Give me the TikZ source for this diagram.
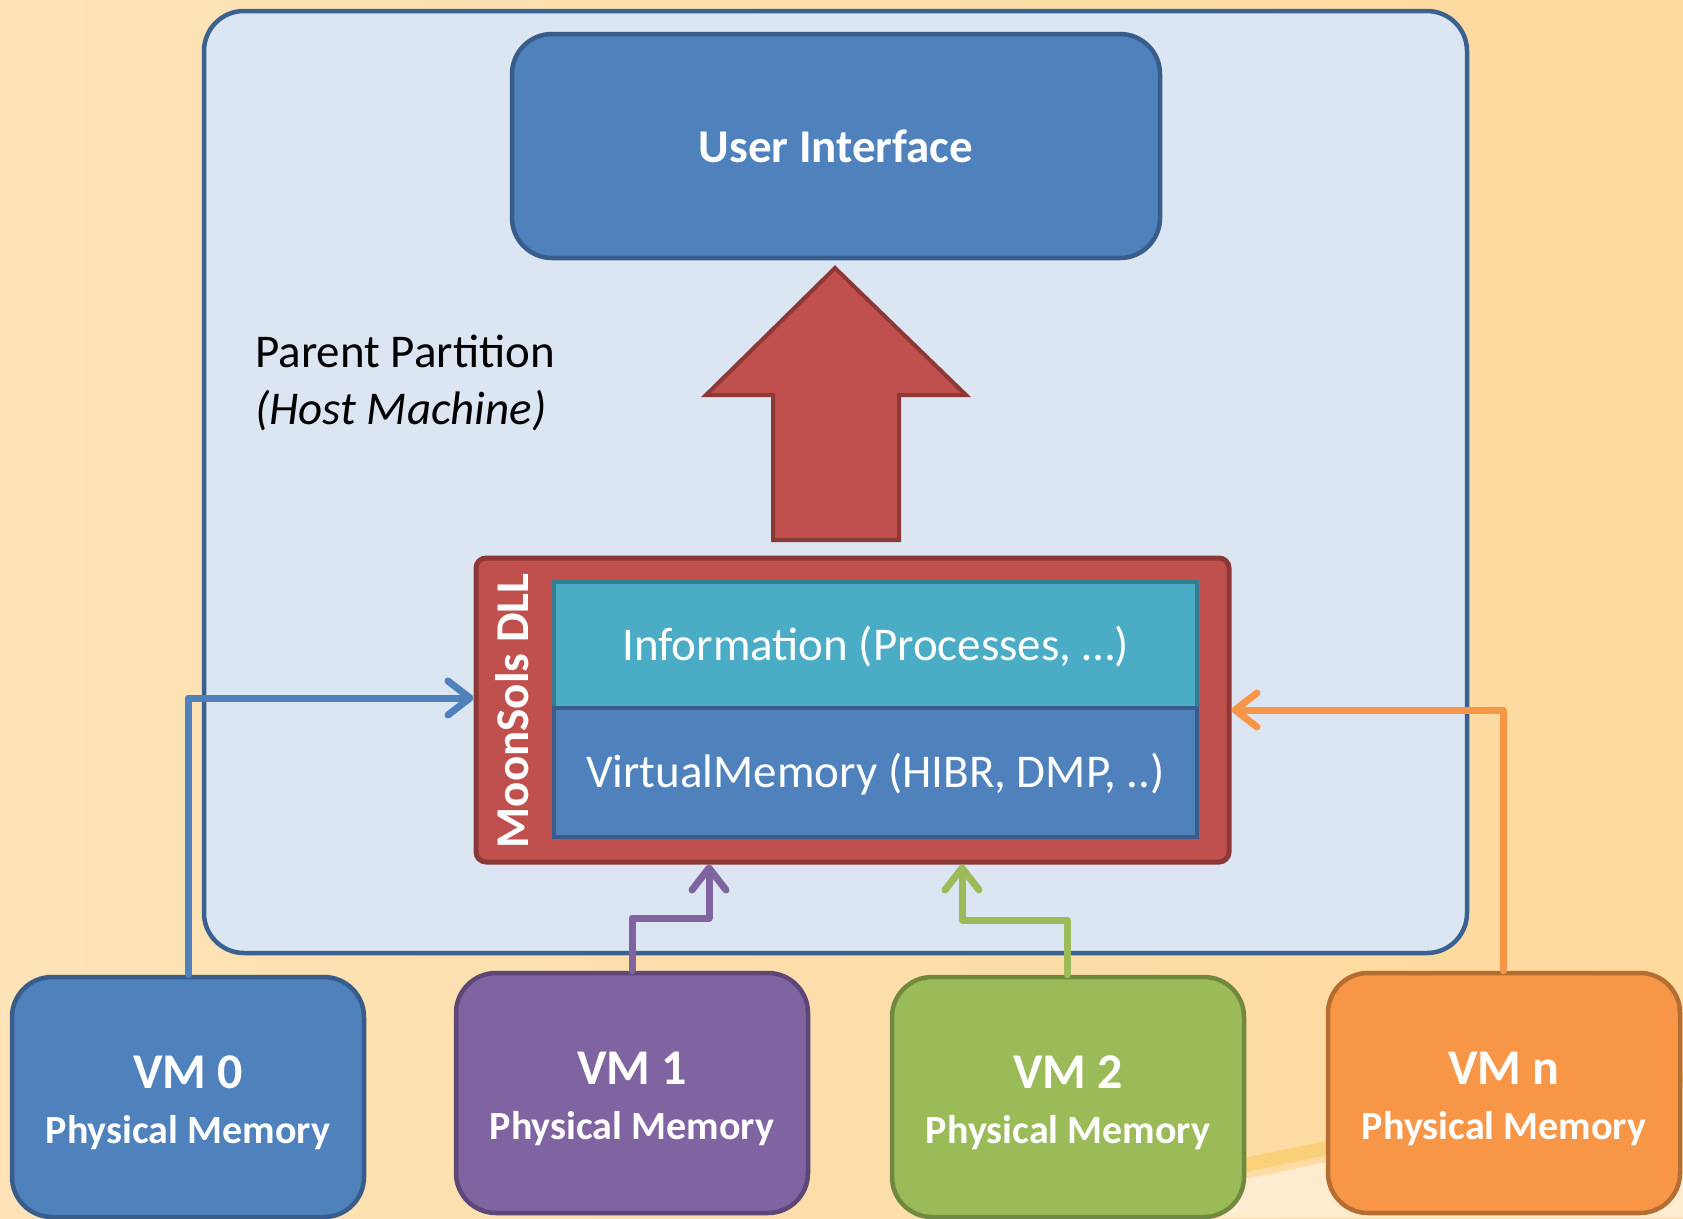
\documentclass[tikz,border=0pt]{standalone}
\usepackage{fontspec}
\setmainfont{Carlito}
\usetikzlibrary{arrows.meta}
\definecolor{bgA}{HTML}{FDE3B7}
\definecolor{bgB}{HTML}{FDD99C}
\definecolor{cream}{HTML}{FEEBD0}
\definecolor{streak}{HTML}{FBC85A}
\definecolor{contfill}{HTML}{DCE6F2}
\definecolor{contdraw}{HTML}{3A6191}
\definecolor{bluefill}{HTML}{4F81BD}
\definecolor{bluedraw}{HTML}{385D8A}
\definecolor{redfill}{HTML}{C0504D}
\definecolor{reddraw}{HTML}{8C3836}
\definecolor{aquafill}{HTML}{4BACC6}
\definecolor{aquadraw}{HTML}{357D91}
\definecolor{purplefill}{HTML}{8064A2}
\definecolor{purpledraw}{HTML}{5C4776}
\definecolor{greenfill}{HTML}{9BBB59}
\definecolor{greendraw}{HTML}{71893F}
\definecolor{orangefill}{HTML}{F79646}
\definecolor{orangedraw}{HTML}{B66D31}
\tikzset{
  box/.style={draw, rounded corners=40pt, line width=4.5pt, inner sep=0pt, text=white},
  flatbox/.style={draw, line width=4.5pt, inner sep=0pt, text=white},
  vmbox/.style={box, minimum width=352pt, minimum height=240pt, align=center,
    font=\fontsize{40}{55}\selectfont\bfseries},
  vmlabel/.style={inner sep=0pt, align=center, text=white,
    font=\fontsize{40}{55}\selectfont\bfseries},
  conn/.style={line width=7pt, line cap=round, line join=round,
    -{Straight Barb[length=22pt,width=34pt,round]}},
  bigtext/.style={font=\fontsize{47}{56}\selectfont},
}
\newcommand{\vmtext}[1]{{\fontsize{50}{55}\selectfont #1}\\Physical Memory}
\begin{document}
\begin{tikzpicture}[x=1pt,y=-1pt]
\useasboundingbox (0,0) rectangle (1683,1218);
% background
\fill[left color=bgA, right color=bgB] (0,0) rectangle (1683,1218);
\fill[cream] (1000,1230) -- (1683,1088) -- (1683,1218) -- (1000,1218) -- cycle;
\draw[streak, line width=14pt, opacity=0.55] (1000,1215) -- (1683,1075);

% container
\node[box, draw=contdraw, fill=contfill, minimum width=1263pt, minimum height=942pt] (host) at (835.5,482) {};
\node[anchor=west, align=left, bigtext, text=black, inner sep=0pt] (pp) at (255,383)
  {Parent Partition\\[1pt]\textit{(Host Machine)}};

% user interface
\node[box, draw=bluedraw, fill=bluefill, minimum width=648pt, minimum height=224pt, bigtext] (ui) at (836,146)
  {\bfseries User Interface};

% big red arrow
\draw[fill=redfill, draw=reddraw, line width=4pt, line join=miter]
  (835,268) -- (966,395) -- (899,395) -- (899,540) -- (773,540) -- (773,395) -- (706,395) -- cycle;

% MoonSols DLL
\node[draw=reddraw, fill=redfill, line width=5pt, rounded corners=10pt, minimum width=753pt, minimum height=304pt, inner sep=0pt] (dll) at (852.5,710) {};
\node[rotate=90, bigtext, text=white, inner sep=0pt] (dlllabel) at (512,711) {\bfseries MoonSols DLL};
\node[flatbox, draw=aquadraw, fill=aquafill, minimum width=643pt, minimum height=126pt, bigtext, text depth=4pt] (info) at (875.5,645)
  {Information (Processes, \ldots)};
\node[flatbox, draw=bluedraw, fill=bluefill, minimum width=643pt, minimum height=129pt, bigtext, text depth=4pt] (vmem) at (875.5,772.5)
  {VirtualMemory (HIBR, DMP, ..)};

% VM boxes
\node[vmbox, draw=bluedraw, fill=bluefill] (vm0) at (188,1097) {};
\node[vmbox, draw=purpledraw, fill=purplefill] (vm1) at (632,1093) {};
\node[vmbox, draw=greendraw, fill=greenfill] (vm2) at (1068,1097) {};
\node[vmbox, draw=orangedraw, fill=orangefill] (vmn) at (1504,1093) {};
\node[vmlabel] (vm0t) at ([yshift=-6pt]vm0.center) {\vmtext{VM 0}};
\node[vmlabel] (vm1t) at ([yshift=-6pt]vm1.center) {\vmtext{VM 1}};
\node[vmlabel] (vm2t) at ([yshift=-6pt]vm2.center) {\vmtext{VM 2}};
\node[vmlabel] (vmnt) at ([yshift=-6pt]vmn.center) {\vmtext{VM n}};

% connectors
\coordinate (p1) at (709,918);
\coordinate (g1) at (962,920);
\draw[conn, bluefill] (vm0.north) |- ([yshift=12pt]dll.west);
\draw[conn, orangefill] ([xshift=-1pt]vmn.north) |- (dll.east);
\draw[conn, purplefill] (vm1.north) |- (p1) -- (p1 |- dll.south);
\draw[conn, greenfill] ([xshift=-1pt]vm2.north) |- (g1) -- (g1 |- dll.south);
\end{tikzpicture}
\end{document}
